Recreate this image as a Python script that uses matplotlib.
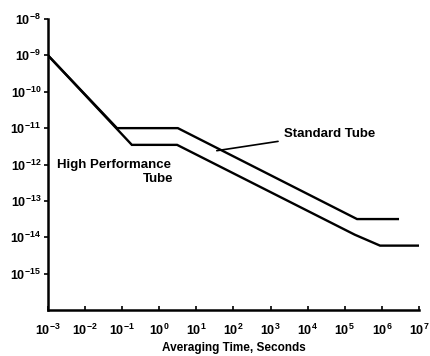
import numpy as np
import matplotlib.pyplot as plt

plt.rcParams['font.family'] = ['Liberation Sans', 'DejaVu Sans']
plt.rcParams['mathtext.fontset'] = 'custom'
plt.rcParams['mathtext.rm'] = 'Liberation Sans:bold'
plt.rcParams['mathtext.default'] = 'rm'
plt.rcParams['axes.unicode_minus'] = False

# Standard tube (averaging time in s, Allan deviation)
std_t = [1e-3, 10**-1.14, 10**0.5, 10**5.33, 10**6.43]
std_y = [1e-9, 1e-11, 1e-11, 10**-13.5, 10**-13.5]

# High performance tube
hp_t = [1e-3, 10**-0.74, 10**0.48, 10**5.27, 10**5.95, 10**7.0]
hp_y = [1e-9, 10**-11.46, 10**-11.46, 10**-13.93, 10**-14.23, 10**-14.23]

x_exp = list(range(-3, 8))
y_exp = list(range(-15, -7))

fig = plt.figure(figsize=(4.3, 3.56), dpi=100)
ax = fig.add_axes([0.1116, 0.1292, 0.8628, 0.8174])

ax.plot(std_t, std_y, color='black', lw=1.7, solid_joinstyle='miter')
ax.plot(hp_t, hp_y, color='black', lw=1.7, solid_joinstyle='miter')

ax.set_xscale('log')
ax.set_yscale('log')
ax.set_xlim(1e-3, 1e7)
ax.set_ylim(1e-16, 1e-8)
ax.set_xticks([10.0**k for k in x_exp])
ax.set_xticklabels(['$10^{%d}$' % k for k in x_exp])
ax.set_yticks([10.0**k for k in y_exp])
ax.set_yticklabels(['$10^{%d}$' % k for k in y_exp])
ax.minorticks_off()

for s in ['top', 'right']:
    ax.spines[s].set_visible(False)
for s in ['left', 'bottom']:
    ax.spines[s].set_linewidth(1.8)

ax.tick_params(axis='x', direction='in', length=3, width=1.2, labelsize=9, pad=9)
ax.tick_params(axis='y', direction='out', length=3, width=1.2, labelsize=9, pad=2)

ax.set_xlabel('Averaging Time, Seconds', fontsize=8.5, fontweight='bold', labelpad=3)

# annotations
ax.annotate('Standard Tube', xy=(10**1.55, 10**-11.62), xytext=(10**3.35, 10**-11.15),
            fontsize=9.5, fontweight='bold', va='center', ha='left',
            arrowprops=dict(arrowstyle='-', color='black', lw=1.2, shrinkA=2, shrinkB=0))
ax.text(10**-2.75, 10**-12.0, 'High Performance', fontsize=9.5, fontweight='bold',
        va='center', ha='left')
ax.text(10**-0.02, 10**-12.4, 'Tube', fontsize=9.5, fontweight='bold',
        va='center', ha='center')

fig.savefig('out.png', dpi=100)
